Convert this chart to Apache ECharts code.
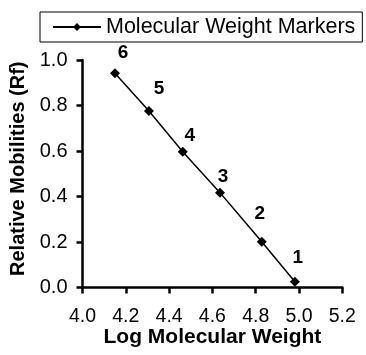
<!DOCTYPE html>
<html>
<head>
<meta charset="utf-8">
<script src="https://cdn.jsdelivr.net/npm/echarts@6/dist/echarts.min.js"></script>
<style>
html,body{margin:0;padding:0;background:#fff;}
#chart{width:366px;height:355px;}
</style>
</head>
<body>
<div id="chart"></div>
<script>
const seriesName = 'Molecular Weight Markers';
const logMW = [4.150, 4.307, 4.463, 4.635, 4.828, 4.981];
const rf = [0.942, 0.776, 0.597, 0.417, 0.201, 0.025];
const markerLabels = ['6', '5', '4', '3', '2', '1'];
const xTicks = ['4.0', '4.2', '4.4', '4.6', '4.8', '5.0', '5.2'];
const yTicks = ['0.0', '0.2', '0.4', '0.6', '0.8', '1.0'];
const labelOffsets = [[8, -20], [10, -22], [7, -16], [3, -16], [-2, -28], [3, -24]];

const FONT = '"Liberation Sans", Arial, sans-serif';
const data = logMW.map((x, i) => ({
  value: [x, rf[i]],
  label: { offset: labelOffsets[i] }
}));

const chart = echarts.init(document.getElementById('chart'), null, { renderer: 'canvas' });
const axisLineStyle = { color: '#000', width: 2.5 };
chart.setOption({
  animation: false,
  backgroundColor: '#fff',
  grid: { left: 82.5, right: 23.7, top: 60, bottom: 67.5, containLabel: false, outerBoundsMode: 'none' },
  legend: {
    left: 40, top: 12,
    padding: [4, 7, 4, 12],
    borderColor: '#000', borderWidth: 1,
    itemWidth: 48, itemHeight: 10, itemGap: 5,
    textStyle: { fontFamily: FONT, fontSize: 21.5, color: '#000' },
    data: [seriesName]
  },
  xAxis: {
    type: 'value', min: 4.0, max: 5.2, interval: 0.2,
    name: 'Log Molecular Weight', nameLocation: 'middle', nameGap: 39,
    nameMoveOverlap: false,
    nameTextStyle: { fontFamily: FONT, fontSize: 21, fontWeight: 'bold', color: '#000' },
    axisLine: { show: true, lineStyle: axisLineStyle, onZero: false },
    axisTick: { show: true, length: 6, lineStyle: axisLineStyle },
    axisLabel: { margin: 19, fontFamily: FONT, fontSize: 19.5, color: '#000',
      formatter: v => xTicks[Math.round((v - 4.0) / 0.2)] },
    splitLine: { show: false }
  },
  yAxis: {
    type: 'value', min: 0, max: 1.0, interval: 0.2,
    name: 'Relative Mobilities (Rf)', nameLocation: 'middle', nameGap: 52,
    nameTextStyle: { fontFamily: FONT, fontSize: 20, fontWeight: 'bold', color: '#000', padding: [0, 0, 0, 10] },
    axisLine: { show: true, lineStyle: axisLineStyle },
    axisTick: { show: true, length: 6, lineStyle: axisLineStyle },
    axisLabel: { margin: 15, fontFamily: FONT, fontSize: 20, color: '#000',
      formatter: v => yTicks[Math.round(v / 0.2)] },
    splitLine: { show: false }
  },
  series: [{
    name: seriesName,
    type: 'line',
    data: data,
    symbol: 'diamond',
    symbolSize: 10,
    itemStyle: { color: '#000' },
    lineStyle: { color: '#000', width: 1.5 },
    label: {
      show: true, position: 'inside',
      fontFamily: FONT, fontSize: 19, fontWeight: 'bold', color: '#000',
      formatter: p => markerLabels[p.dataIndex]
    }
  }]
});
</script>
</body>
</html>
